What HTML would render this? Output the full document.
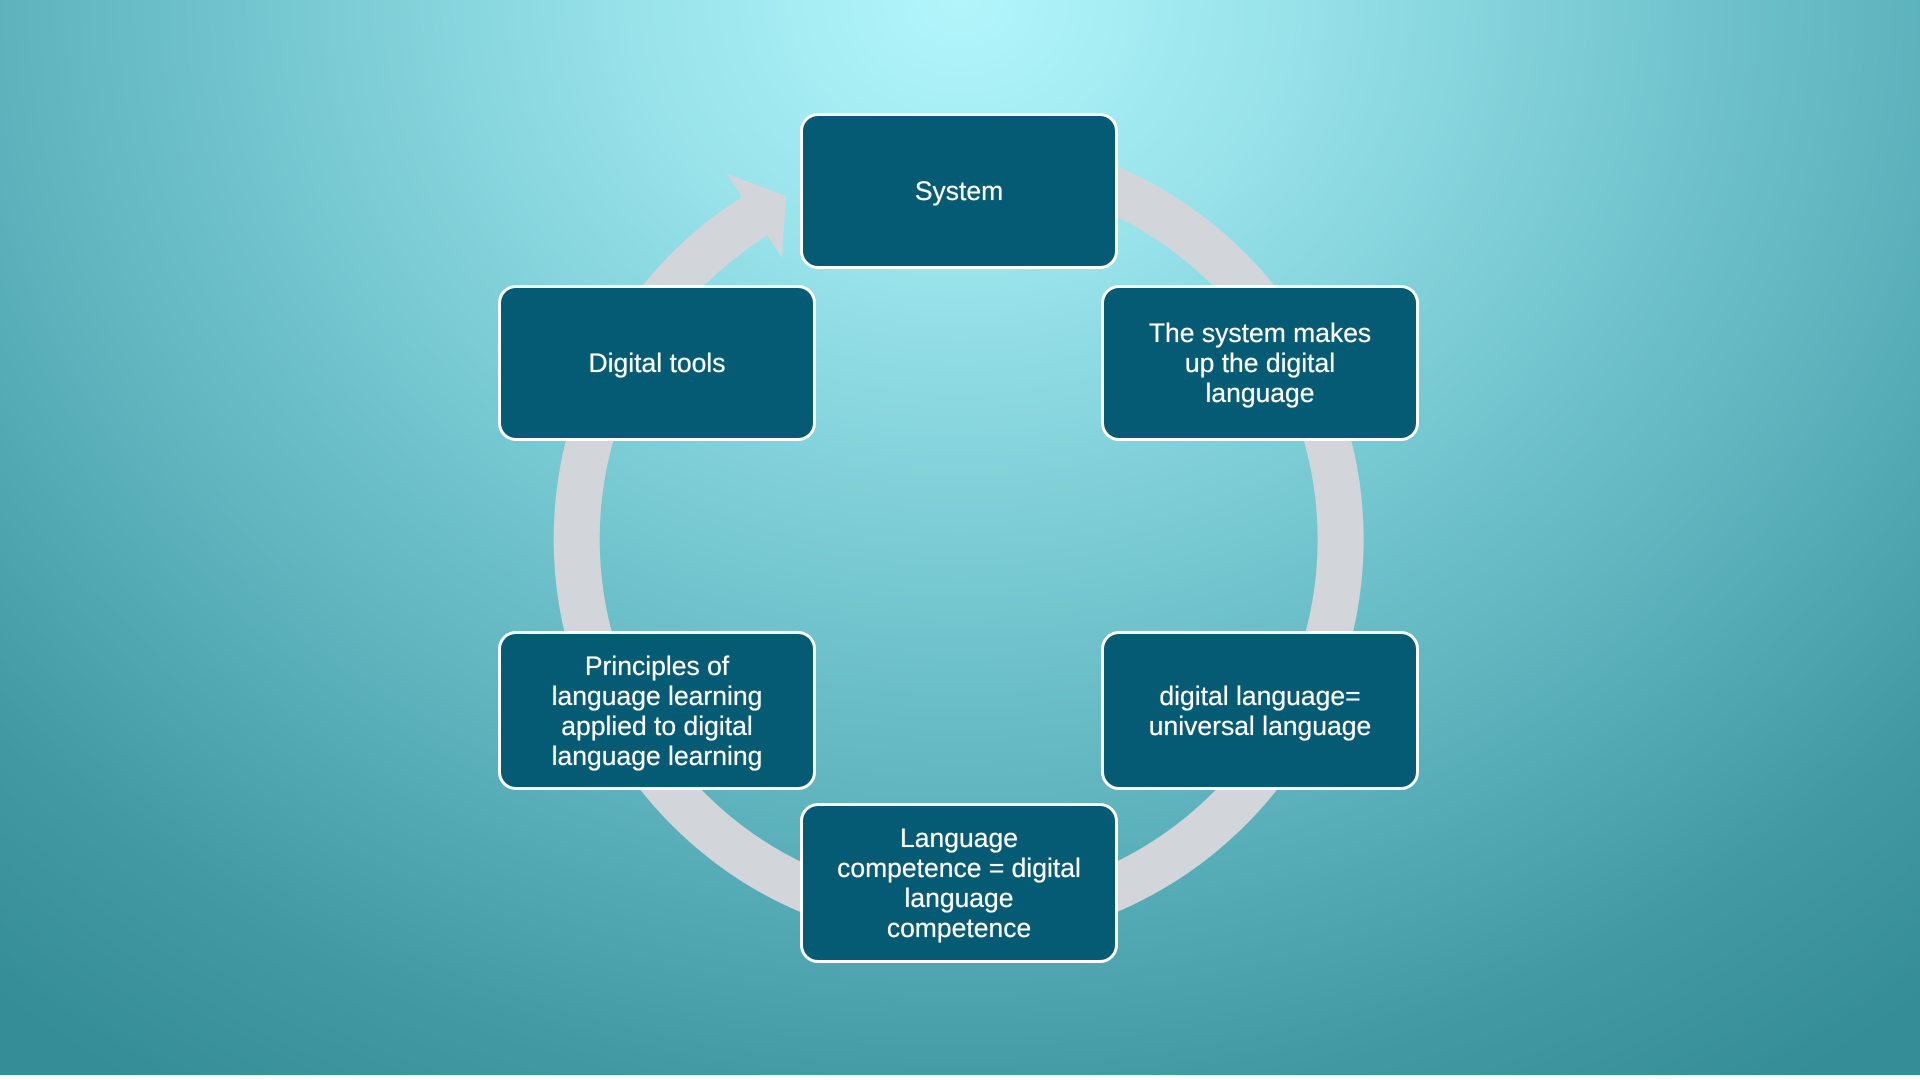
<!DOCTYPE html>
<html><head><meta charset="utf-8"><style>
html,body{margin:0;padding:0;}
body{width:1920px;height:1080px;overflow:hidden;position:relative;background:#fff;font-family:"Liberation Sans",Arial,sans-serif;}
.bg{position:absolute;left:0;top:0;width:1920px;height:1075px;background:radial-gradient(ellipse 1500px 1300px at 960px 0px,#b2f6fc 0%,#98e2ea 22%,#76c8d1 45%,#58aeb8 68%,#4399a3 85%,#358d97 100%);}
.box{position:absolute;box-sizing:border-box;width:318px;height:156px;background:#055b73;border:3px solid #fff;border-radius:18px;color:#fff;display:flex;align-items:center;justify-content:center;text-align:center;font-size:26.5px;line-height:30px;text-shadow:0 0 0.6px #fff;}
svg{position:absolute;left:0;top:0;}
</style></head><body>
<div class="bg"></div>
<svg width="1920" height="1080">
<path d="M1025 163 A382 382 0 1 1 755 216" fill="none" stroke="#d2d6da" stroke-width="46"/>
<polygon points="786,196 727,174 782,258" fill="#d2d6da"/>
</svg>
<div class="box" style="left:800px;top:113px;">System</div>
<div class="box" style="left:498px;top:285px;">Digital tools</div>
<div class="box" style="left:1101px;top:285px;">The system makes<br>up the digital<br>language</div>
<div class="box" style="left:498px;top:631px;height:159px;">Principles of<br>language learning<br>applied to digital<br>language learning</div>
<div class="box" style="left:1101px;top:631px;height:159px;">digital language=<br>universal language</div>
<div class="box" style="left:800px;top:803px;height:160px;">Language<br>competence = digital<br>language<br>competence</div>
</body></html>
